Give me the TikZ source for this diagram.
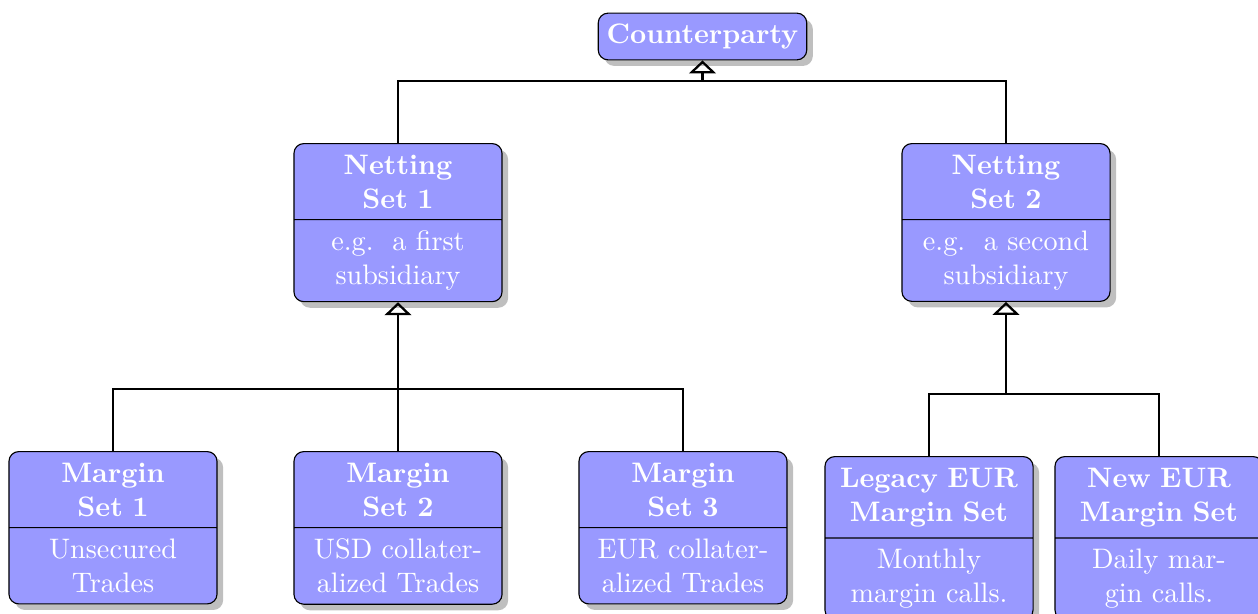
\documentclass[tikz,border=0pt]{standalone}
\usetikzlibrary{shapes.multipart,shadows,arrows.meta,calc}
\begin{document}
\begin{tikzpicture}[x=0.35461pt,y=-0.35461pt,
  cls/.style={rectangle split, rectangle split parts=2, draw, rounded corners=3.5pt,
    fill=blue!40, text=white, text width=64pt, align=center, inner xsep=4.9pt,
    inner ysep=3.8pt, drop shadow, anchor=north},
  topcls/.style={draw, rounded corners=3.5pt, fill=blue!40, text=white, font=\bfseries,
    inner xsep=3pt, inner ysep=3.8pt, drop shadow},
  link/.style={thick},
  inh/.style={thick, -{Triangle[open,width=9.5pt,length=4.6pt]}}]
\useasboundingbox (0,0) rectangle (1258,614);

\node[topcls] (cp) at (702.5,36.5) {Counterparty};

\node[cls] (ns1) at (398,143) {\textbf{Netting\\Set 1}\nodepart{two}e.g.\ \ a first\\subsidiary};
\node[cls] (ns2) at (1006,143) {\textbf{Netting\\Set 2}\nodepart{two}e.g.\ \ a second\\subsidiary};

\node[cls] (ms1) at (113,451) {\textbf{Margin\\Set 1}\nodepart{two}Unsecured\\Trades};
\node[cls] (ms2) at (398,451) {\textbf{Margin\\Set 2}\nodepart{two}USD collater-\\alized Trades};
\node[cls] (ms3) at (683,451) {\textbf{Margin\\Set 3}\nodepart{two}EUR collater-\\alized Trades};
\node[cls] (lg) at (929,456) {\textbf{Legacy EUR\\Margin Set}\nodepart{two}Monthly\\margin calls.};
\node[cls] (nw) at (1159,456) {\textbf{New EUR\\Margin Set}\nodepart{two}Daily mar-\\gin calls.};

% Counterparty level
\coordinate (b0) at ($(ns1.north)+(0,22pt)$);
\draw[link] (ns1.north) -- (b0) -| (ns2.north);
\draw[inh] (b0 -| cp.south) -- (cp.south);

% Netting set 1 level
\coordinate (b1) at ($(ms1.north)+(0,22pt)$);
\draw[link] (ms1.north) -- (b1) -| (ms3.north);
\draw[inh] (ms2.north) -- (ns1.south);

% Netting set 2 level
\coordinate (b2) at ($(lg.north)+(0,22pt)$);
\draw[link] (lg.north) -- (b2) -| (nw.north);
\draw[inh] (b2 -| ns2.south) -- (ns2.south);
\end{tikzpicture}
\end{document}
